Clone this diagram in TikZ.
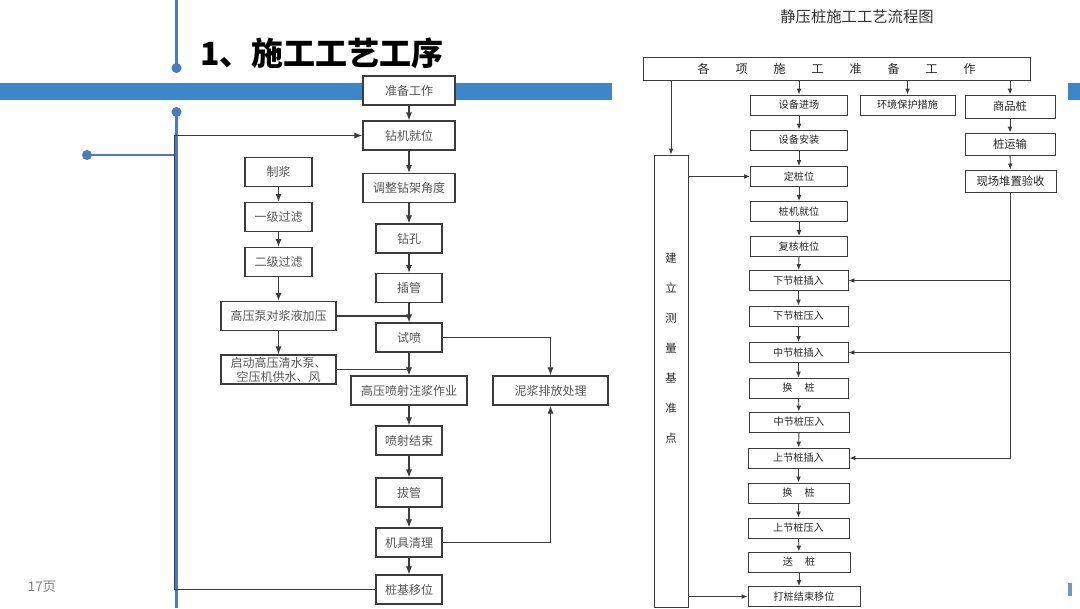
\documentclass[tikz,border=0pt]{standalone}
\usepackage{fontspec}
\setmainfont{Noto Sans CJK SC}
\usetikzlibrary{arrows.meta}
\definecolor{slideblue}{RGB}{61,134,200}
\definecolor{lineblue}{RGB}{72,124,190}
\definecolor{boxgray}{RGB}{60,60,60}
\definecolor{txtgray}{RGB}{85,85,85}
\definecolor{pagegray}{RGB}{130,130,130}

\begin{document}
\begin{tikzpicture}[x=0.75pt,y=-0.75pt]
		\tikzstyle{every node}+=[inner sep=0pt]
		\tikzstyle{lbox}=[draw=boxgray,line width=0.8pt,fill=white,text=txtgray,font=\fontsize{9}{10}\selectfont,minimum width=92*0.75pt,minimum height=29*0.75pt]
		\tikzstyle{lnar}=[lbox,minimum width=66*0.75pt]
		\tikzstyle{lwide}=[lbox,minimum width=116*0.75pt]
		\tikzstyle{rbox}=[draw=boxgray,line width=0.7pt,fill=white,text=black!85,font=\fontsize{7.6}{9}\selectfont,minimum width=97*0.75pt,minimum height=20*0.75pt]
		\tikzstyle{lline}=[draw=boxgray,line width=0.8pt]
		\tikzstyle{larr}=[lline,-{Latex[length=6pt,width=4.5pt]}]
		\tikzstyle{rline}=[draw=boxgray,line width=0.7pt]
		\tikzstyle{rarr}=[rline,-{Latex[length=4.5pt,width=3.6pt]}]
		\useasboundingbox (0,0) rectangle (1080,608);
		\fill [white] (0,0) rectangle (1080,608);
		% slide decoration
		\fill [slideblue] (0,83) rectangle (612,100);
		\fill [slideblue] (1068,83) rectangle (1080,100);
		\fill [lineblue!80] (1068,583) rectangle (1072,596);
		\draw [lineblue,line width=1.8pt] (176.5,0) -- (176.5,68);
		\fill [lineblue] (176.5,68) circle (5);
		\draw [lineblue,line width=1.8pt] (176.5,112) -- (176.5,608);
		\fill [lineblue] (176.5,112) circle (5);
		\draw [lineblue,line width=1.8pt] (87,155) -- (176.5,155);
		\fill [lineblue] (87,155) circle (5);
		\node (title) at (322,53) {\fontsize{24}{26}\selectfont\bfseries 1、施工工艺工序};
		\node [text=pagegray,font=\fontsize{10}{12}\selectfont] (page) at (42,587) {17页};
		% left chart
		\node [lbox] (zhunbei) at (409,90.5) {准备工作};
		\node [lbox] (jiuwei) at (409,135.5) {钻机就位};
		\node [lbox] (tiaozheng) at (409,188) {调整钻架角度};
		\node [lnar] (zuankong) at (409,238.5) {钻孔};
		\node [lnar] (chaguan) at (409,288) {插管};
		\node [lnar] (shipen) at (409,337.5) {试喷};
		\node [lwide] (penshe) at (409,390.5) {高压喷射注浆作业};
		\node [lnar] (jieshu) at (409,440.5) {喷射结束};
		\node [lnar] (baguan) at (409,492.5) {拔管};
		\node [lnar] (jiju) at (409,542.5) {机具清理};
		\node [lnar] (yiwei) at (409,589.5) {桩基移位};
		\node [lnar,minimum width=67*0.75pt] (zhijiang) at (278.5,172) {制浆};
		\node [lnar,minimum width=67*0.75pt] (yiji) at (278.5,217) {一级过滤};
		\node [lnar,minimum width=67*0.75pt] (erji) at (278.5,262) {二级过滤};
		\node [lwide,minimum width=115*0.75pt] (jiaya) at (278.5,316) {高压泵对浆液加压};
		\node [lwide,minimum width=115*0.75pt,align=center,font=\fontsize{9}{10.5}\selectfont] (qidong) at (278.5,369.5) {启动高压清水泵、\\空压机供水、风};
		\node [lwide,minimum width=115*0.75pt] (nijiang) at (550.5,390.5) {泥浆排放处理};
		\draw [larr] (zhunbei) -- (jiuwei);
		\draw [larr] (jiuwei) -- (tiaozheng);
		\draw [larr] (tiaozheng) -- (zuankong);
		\draw [larr] (zuankong) -- (chaguan);
		\draw [larr] (chaguan) -- (shipen);
		\draw [larr] (shipen) -- (penshe);
		\draw [larr] (penshe) -- (jieshu);
		\draw [larr] (jieshu) -- (baguan);
		\draw [larr] (baguan) -- (jiju);
		\draw [larr] (jiju) -- (yiwei);
		\draw [larr] (zhijiang) -- (yiji);
		\draw [larr] (yiji) -- (erji);
		\draw [larr] (erji) -- (jiaya);
		\draw [larr] (jiaya) -- (qidong);
		\draw [lline] (jiaya.east) -- (jiaya.east -| shipen.north);
		\draw [lline] (qidong.east) -- (qidong.east -| penshe.north);
		\draw [larr] (shipen.east) -| (nijiang.north);
		\draw [larr] (jiju.east) -| (nijiang.south);
		\draw [larr] (yiwei.west) -- ++(-201,0) |- (jiuwei.west);
		% right chart
		\node [text=black!80,font=\fontsize{11.5}{13}\selectfont] (rtitle) at (857,17) {静压桩施工工艺流程图};
		\node [rbox,minimum width=387*0.75pt,minimum height=23*0.75pt,font=\fontsize{9}{10}\selectfont] (gezhun) at (836.5,68.5) {各\hspace{19.5pt}项\hspace{19.5pt}施\hspace{19.5pt}工\hspace{19.5pt}准\hspace{19.5pt}备\hspace{19.5pt}工\hspace{19.5pt}作};
		\node [rbox] (jinchang) at (799,105) {设备进场};
		\node [rbox] (anzhuang) at (799,140) {设备安装};
		\node [rbox] (dingwei) at (799,176.5) {定桩位};
		\node [rbox] (jijiu) at (799,211.5) {桩机就位};
		\node [rbox] (fuhe) at (799,246.5) {复核桩位};
		\node [rbox,minimum width=99*0.75pt] (xiacha) at (798.5,280.5) {下节桩插入};
		\node [rbox,minimum width=99*0.75pt] (xiaya) at (798.5,316) {下节桩压入};
		\node [rbox,minimum width=99*0.75pt] (zhongcha) at (798.5,352.5) {中节桩插入};
		\node [rbox,minimum width=99*0.75pt] (huana) at (798.5,388) {换\hspace{9pt}桩};
		\node [rbox,minimum width=100*0.75pt] (zhongya) at (799,422) {中节桩压入};
		\node [rbox,minimum width=101*0.75pt] (shangcha) at (798.5,458) {上节桩插入};
		\node [rbox,minimum width=101*0.75pt] (huanb) at (798.5,493) {换\hspace{9pt}桩};
		\node [rbox,minimum width=101*0.75pt] (shangya) at (798.5,528) {上节桩压入};
		\node [rbox,minimum width=102*0.75pt] (songzhuang) at (799,562) {送\hspace{9pt}桩};
		\node [rbox,minimum width=112*0.75pt] (yiweir) at (804,596.5) {打桩结束移位};
		\node [rbox,minimum width=95*0.75pt] (huanbao) at (907.5,105) {环境保护措施};
		\node [rbox,minimum width=90*0.75pt,minimum height=23*0.75pt,font=\fontsize{8.5}{10}\selectfont] (shangpin) at (1010,106.5) {商品桩};
		\node [rbox,minimum width=90*0.75pt,minimum height=22*0.75pt,font=\fontsize{8.5}{10}\selectfont] (yunshu) at (1010,144) {桩运输};
		\node [rbox,minimum width=91*0.75pt,minimum height=22*0.75pt,font=\fontsize{8.5}{10}\selectfont] (duizhi) at (1010.5,181) {现场堆置验收};
		\node [rbox,minimum width=34*0.75pt,minimum height=452*0.75pt] (jizhun) at (671,381) {};
		\node [text=black!85,font=\fontsize{8.5}{22.5}\selectfont,align=center] (jizhuntext) at (671,348) {建\\立\\测\\量\\基\\准\\点};
		\draw [rarr] (gezhun.south -| jizhun.north) -- (jizhun.north);
		\draw [rarr] (gezhun.south -| jinchang.north) -- (jinchang.north);
		\draw [rarr] (gezhun.south -| huanbao.north) -- (huanbao.north);
		\draw [rarr] (gezhun.south -| shangpin.north) -- (shangpin.north);
		\draw [rarr] (jinchang) -- (anzhuang);
		\draw [rarr] (anzhuang) -- (dingwei);
		\draw [rarr] (dingwei) -- (jijiu);
		\draw [rarr] (jijiu) -- (fuhe);
		\draw [rarr] (fuhe) -- (xiacha);
		\draw [rarr] (xiacha) -- (xiaya);
		\draw [rarr] (xiaya) -- (zhongcha);
		\draw [rarr] (zhongcha) -- (huana);
		\draw [rarr] (huana) -- (zhongya);
		\draw [rarr] (zhongya) -- (shangcha);
		\draw [rarr] (shangcha) -- (huanb);
		\draw [rarr] (huanb) -- (shangya);
		\draw [rarr] (shangya) -- (songzhuang);
		\draw [rarr] (songzhuang) -- (songzhuang.south |- yiweir.north);
		\draw [rarr] (shangpin) -- (yunshu);
		\draw [rarr] (yunshu) -- (duizhi);
		\draw [rline] (duizhi.south) -- (duizhi.south |- shangcha.east);
		\draw [rarr] (duizhi.south |- xiacha.east) -- (xiacha.east);
		\draw [rarr] (duizhi.south |- zhongcha.east) -- (zhongcha.east);
		\draw [rarr] (duizhi.south |- shangcha.east) -- (shangcha.east);
		\draw [rarr] (jizhun.east |- dingwei.west) -- (dingwei.west);
		\draw [rarr] (jizhun.east |- yiweir.west) -- (yiweir.west);
	\end{tikzpicture}
\end{document}
